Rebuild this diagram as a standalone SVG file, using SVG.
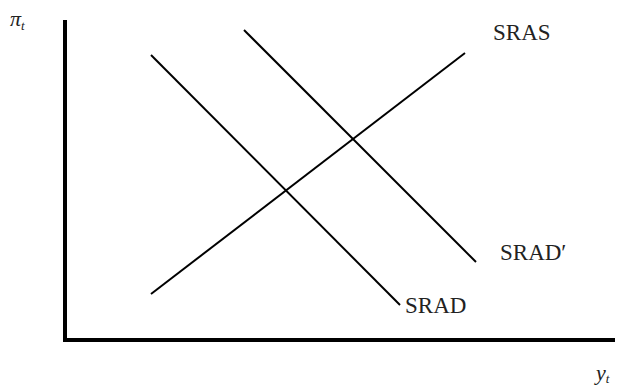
<svg xmlns="http://www.w3.org/2000/svg" width="631" height="385" viewBox="0 0 631 385">
<style>
.axis{stroke:#000;stroke-width:4;fill:none}
.curve{stroke:#000;stroke-width:2;fill:none}
.lbl{font-family:"Liberation Serif","Times New Roman",serif;font-size:23px;fill:#222}
.ax{font-family:"Liberation Serif","Times New Roman",serif;font-style:italic;font-size:22px;fill:#222}
.sub{font-size:13px}
</style>
<rect width="631" height="385" fill="#fff"/>
<g id="axes">
<path class="axis" d="M65,20 V340 H615"/>
</g>
<g id="connectors">
<line id="SRAS-line" class="curve" x1="151" y1="294" x2="465" y2="53"/>
<line id="SRAD-line" class="curve" x1="151" y1="55" x2="400" y2="305"/>
<line id="SRADp-line" class="curve" x1="244" y1="30" x2="476" y2="262"/>
</g>
<g id="n-pi"><text class="ax" x="10" y="26">π<tspan class="sub" dy="4">t</tspan></text></g>
<g id="n-y"><text class="ax" x="596" y="380">y<tspan class="sub" dy="3">t</tspan></text></g>
<g id="n-sras"><text class="lbl" x="493" y="40">SRAS</text></g>
<g id="n-sradp"><text class="lbl" x="500" y="260">SRAD′</text></g>
<g id="n-srad"><text class="lbl" x="405" y="313">SRAD</text></g>
</svg>
